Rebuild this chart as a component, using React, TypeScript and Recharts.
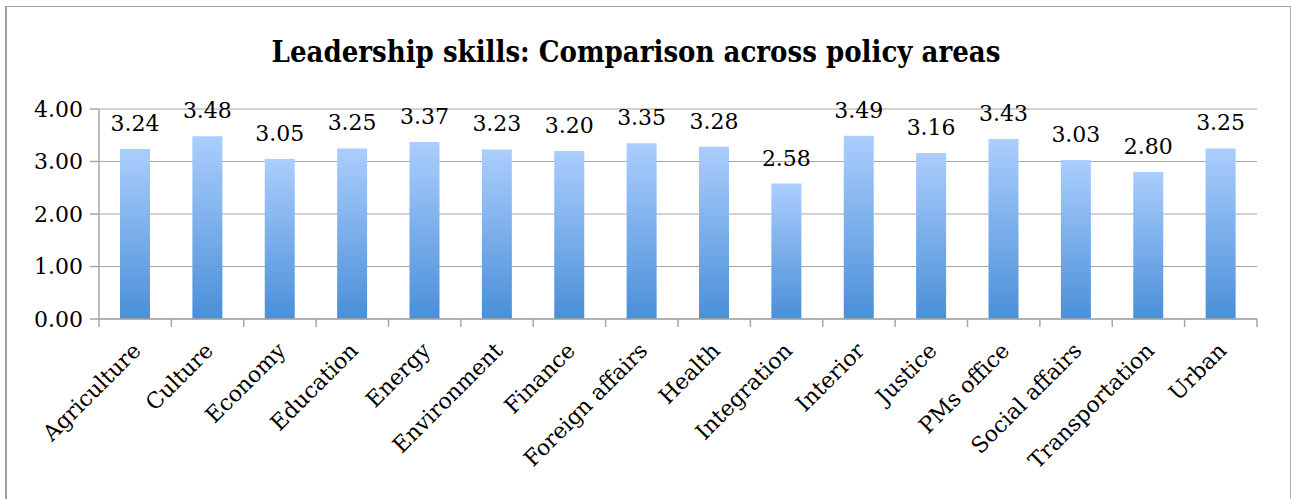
import React from 'react';
import { ComposedChart, Bar, XAxis, YAxis, CartesianGrid, LabelList } from 'recharts';

const categories = ['Agriculture', 'Culture', 'Economy', 'Education', 'Energy', 'Environment', 'Finance', 'Foreign affairs', 'Health', 'Integration', 'Interior', 'Justice', 'PMs office', 'Social affairs', 'Transportation', 'Urban'];
const scores = [3.24, 3.48, 3.05, 3.25, 3.37, 3.23, 3.20, 3.35, 3.28, 2.58, 3.49, 3.16, 3.43, 3.03, 2.80, 3.25];
const yTicks = [0, 1, 2, 3, 4];

const data = categories.map((c, i) => ({ name: c, value: scores[i] }));

const FONT = '"DejaVu Serif", serif';
const GRID = '#a6a6a6';
const CHART_W = 1291;
const M_LEFT = 99;
const M_RIGHT = 34;
const BAND = (CHART_W - M_LEFT - M_RIGHT) / categories.length;

const XTick = (props: any) => {
  const { x, y, payload, index } = props;
  const ax = x + 7;
  const ay = y + 33;
  const left = x - BAND / 2;
  const right = x + BAND / 2;
  return (
    <g>
      <line x1={left} x2={left} y1={y} y2={y + 8} stroke={GRID} strokeWidth={1.5} />
      {index === categories.length - 1 && (
        <line x1={right} x2={right} y1={y} y2={y + 8} stroke={GRID} strokeWidth={1.5} />
      )}
      <text x={ax} y={ay} transform={`rotate(-45, ${ax}, ${ay})`} textAnchor="end" fontFamily={FONT} fontSize={22} fill="#000">
        {payload.value}
      </text>
    </g>
  );
};

export default function App() {
  return (
    <div style={{ position: 'absolute', left: 0, top: 0, width: 1291, height: 499, overflow: 'hidden', background: '#fff' }}>
      <div style={{ position: 'absolute', left: 5, top: 6, width: 1286, height: 520, borderTop: '1px solid #a0a0a0', borderLeft: '2px solid #a0a0a0', borderRight: '1px solid #b0b0b0', boxSizing: 'border-box' }} />
      <div style={{ position: 'absolute', left: 0, top: 32, width: 1272, textAlign: 'center', fontFamily: '"DejaVu Serif Condensed", "DejaVu Serif", serif', fontWeight: 'bold', fontSize: 29, color: '#000', lineHeight: '40px' }}>
        Leadership skills: Comparison across policy areas
      </div>
      <div style={{ position: 'absolute', left: 0, top: 0 }}>
        <ComposedChart width={CHART_W} height={499} data={data} margin={{ top: 109, right: M_RIGHT, bottom: 10, left: 0 }} barCategoryGap={0}>
          <defs>
            <linearGradient id="barGrad" x1="0" y1="0" x2="0" y2="1">
              <stop offset="0%" stopColor="#abcefd" />
              <stop offset="100%" stopColor="#4a8fd8" />
            </linearGradient>
          </defs>
          <CartesianGrid vertical={false} stroke={GRID} strokeWidth={1.2} />
          <XAxis dataKey="name" height={170} interval={0} tickLine={false} axisLine={{ stroke: GRID, strokeWidth: 1.5 }} tick={<XTick />} tickSize={0} tickMargin={0} />
          <YAxis type="number" domain={[0, 4]} ticks={yTicks} width={M_LEFT} tickFormatter={(v: number) => v.toFixed(2)} tickSize={9} tickMargin={7} tickLine={{ stroke: GRID, strokeWidth: 1.5 }} axisLine={{ stroke: GRID, strokeWidth: 1.5 }} tick={{ fill: '#000', fontSize: 22, fontFamily: FONT }} />
          <Bar dataKey="value" fill="url(#barGrad)" barSize={30} isAnimationActive={false}>
            <LabelList dataKey="value" position="top" offset={18} formatter={(v: any) => Number(v).toFixed(2)} fill="#000" fontSize={22} fontFamily={FONT} />
          </Bar>
        </ComposedChart>
      </div>
    </div>
  );
}
